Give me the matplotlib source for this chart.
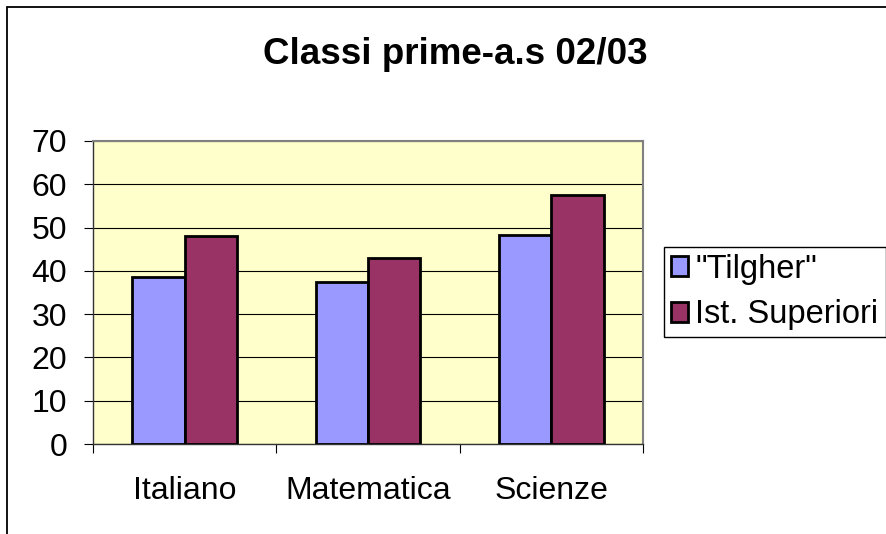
import matplotlib
matplotlib.use("Agg")
import matplotlib.pyplot as plt
from matplotlib.patches import Rectangle
import numpy as np

plt.rcParams['font.family'] = ['Liberation Sans', 'DejaVu Sans']

title = "Classi prime-a.s 02/03"
categories = ["Italiano", "Matematica", "Scienze"]
series_names = ['"Tilgher"', "Ist. Superiori"]
tilgher = [38.5, 37.5, 48.3]
superiori = [48.1, 43.0, 57.5]
y_ticks = [0, 10, 20, 30, 40, 50, 60, 70]

W, H = 887, 534
fig = plt.figure(figsize=(W / 100, H / 100), dpi=100)

# outer chart border (cropped on the right/bottom)
fig.patches.append(Rectangle((7 / W, -0.1), 1.2, 1 - 7 / H + 0.1,
                             transform=fig.transFigure, fill=False,
                             edgecolor='black', linewidth=1.3))

ax = fig.add_axes([93 / W, (H - 444) / H, 550 / W, 303 / H])
ax.set_facecolor('#FFFFCC')

x = np.arange(len(categories))
bw = 0.286
ax.bar(x - bw / 2, tilgher, bw, color='#9999FF', edgecolor='black',
       linewidth=2.0, label=series_names[0], zorder=3)
ax.bar(x + bw / 2, superiori, bw, color='#993366', edgecolor='black',
       linewidth=2.0, label=series_names[1], zorder=3)

ax.set_xlim(-0.5, len(categories) - 0.5)
ax.set_ylim(0, 70)
ax.set_yticks(y_ticks)
ax.yaxis.grid(True, color='black', linewidth=0.8, zorder=1)
ax.set_axisbelow(True)

# ticks: major at category boundaries, labels on minor ticks at centers
ax.set_xticks(np.arange(-0.5, len(categories), 1.0))
ax.set_xticklabels([])
ax.set_xticks(x, minor=True)
ax.set_xticklabels(categories, minor=True)
ax.tick_params(axis='x', which='major', length=6.5, width=0.8, direction='out')
ax.tick_params(axis='x', which='minor', length=0, pad=23, labelsize=23)
ax.tick_params(axis='y', length=6.5, width=0.8, direction='out', pad=12,
               labelsize=23)

for s in ['top', 'right']:
    ax.spines[s].set_color('#808080')
    ax.spines[s].set_linewidth(1.5)
for s in ['left', 'bottom']:
    ax.spines[s].set_color('#333333')
    ax.spines[s].set_linewidth(1.0)

fig.text(455 / W, 1 - 54 / H, title, ha='center', va='center',
         fontsize=26.5, fontweight='bold')

leg = fig.legend(loc='center left',
                 bbox_to_anchor=(664 / W, 1 - 338 / H, 222 / W, 92 / H),
                 mode='expand', fontsize=23.5, frameon=True, fancybox=False,
                 edgecolor='black', framealpha=1, handlelength=0.55,
                 handleheight=0.55, handletextpad=0.2, borderpad=0.2,
                 labelspacing=0.45, borderaxespad=0)
leg.get_frame().set_linewidth(1.0)

fig.savefig("out.png", dpi=100)
